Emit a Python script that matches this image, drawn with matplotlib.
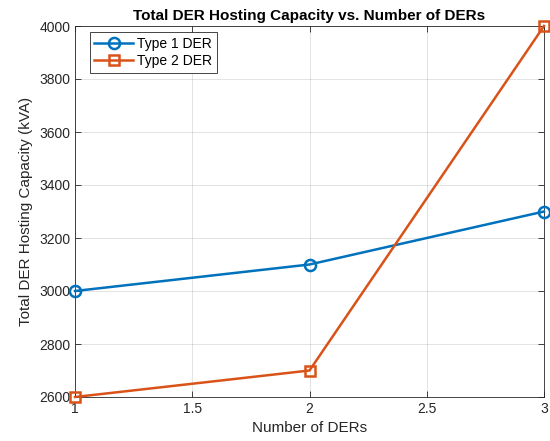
import matplotlib
matplotlib.use('Agg')
import matplotlib.pyplot as plt

plt.rcParams['font.family'] = ['Liberation Sans', 'DejaVu Sans']
plt.rcParams['font.size'] = 10

num_ders = [1, 2, 3]
type1_capacity = [3000, 3100, 3300]
type2_capacity = [2600, 2700, 4000]
x_ticks = [1, 1.5, 2, 2.5, 3]
x_tick_labels = ['1', '1.5', '2', '2.5', '3']
y_ticks = [2600, 2800, 3000, 3200, 3400, 3600, 3800, 4000]

blue = (0, 0.447, 0.741)
orange = (0.85, 0.325, 0.098)
axis_grey = (0.15, 0.15, 0.15)

fig = plt.figure(figsize=(5.5, 4.41), dpi=100)
ax = fig.add_axes([75/550, 1 - 397/441, (544 - 75)/550, (397 - 26)/441])

ax.plot(num_ders, type1_capacity, color=blue, linewidth=1.8, marker='o',
        markersize=8, markerfacecolor='none', markeredgewidth=1.8,
        label='Type 1 DER', clip_on=False, zorder=3)
ax.plot(num_ders, type2_capacity, color=orange, linewidth=1.8, marker='s',
        markersize=7, markerfacecolor='none', markeredgewidth=1.8,
        label='Type 2 DER', clip_on=False, zorder=3)

ax.set_xlim(1, 3)
ax.set_ylim(2600, 4000)
ax.set_xticks(x_ticks)
ax.set_xticklabels(x_tick_labels)
ax.set_yticks(y_ticks)

ax.grid(True, color=(0.15, 0.15, 0.15), alpha=0.15, linewidth=0.6)
ax.set_axisbelow(True)
ax.tick_params(direction='in', colors=axis_grey, labelsize=10, length=4, width=0.6,
               top=True, right=True)
for s in ax.spines.values():
    s.set_color(axis_grey)
    s.set_linewidth(0.6)

ax.set_xlabel('Number of DERs', fontsize=11, color=axis_grey)
ax.set_ylabel('Total DER Hosting Capacity (kVA)', fontsize=11, color=axis_grey)
ax.set_title('Total DER Hosting Capacity vs. Number of DERs', fontsize=11,
             fontweight='bold', color='black', pad=4)

leg = ax.legend(loc='upper left', bbox_to_anchor=(0.025, 0.99), fancybox=False,
                framealpha=1, edgecolor=axis_grey, fontsize=10,
                handlelength=2.8, borderpad=0.35, labelspacing=0.2,
                handletextpad=0.3, borderaxespad=0.2)
leg.get_frame().set_linewidth(0.6)

fig.savefig('out.png', dpi=100)
